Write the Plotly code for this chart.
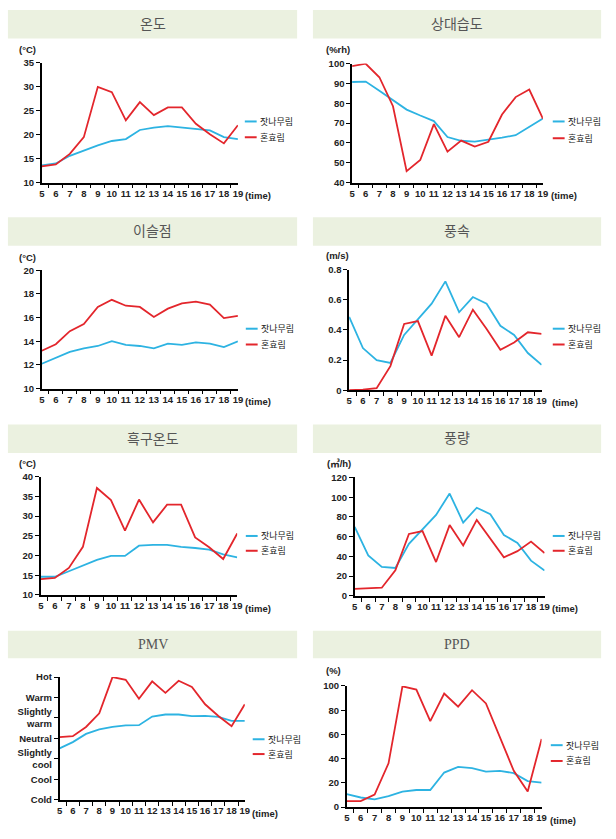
import plotly.graph_objects as go

W, H = 616, 839

# ---------------- data ----------------
hours = ["5", "6", "7", "8", "9", "10", "11", "12", "13", "14", "15", "16", "17", "18", "19"]
series_names = ["잣나무림", "혼효림"]

temp_pine = [13.6, 14.0, 15.6, 16.7, 17.8, 18.7, 19.1, 21.0, 21.5, 21.8, 21.5, 21.3, 20.9, 19.5, 19.1]
temp_mixed = [13.4, 13.8, 16.0, 19.5, 30.0, 28.9, 23.0, 26.8, 24.1, 25.7, 25.7, 22.3, 20.1, 18.2, 22.0]

rh_pine = [90.7, 90.9, 86.3, 81.6, 76.8, 73.8, 71.0, 63.0, 61.1, 60.7, 61.6, 62.7, 63.9, 68.0, 72.3]
rh_mixed = [98.7, 99.9, 93.1, 78.5, 45.8, 51.4, 69.5, 55.6, 61.2, 58.2, 60.6, 74.3, 83.1, 86.9, 72.2]

dew_pine = [12.1, 12.6, 13.1, 13.4, 13.6, 14.0, 13.7, 13.6, 13.4, 13.8, 13.7, 13.9, 13.8, 13.5, 14.0]
dew_mixed = [13.2, 13.75, 14.85, 15.45, 16.9, 17.5, 17.0, 16.9, 16.05, 16.75, 17.2, 17.35, 17.1, 15.95, 16.15]

wind_pine = [0.487, 0.28, 0.199, 0.181, 0.367, 0.472, 0.575, 0.723, 0.518, 0.619, 0.575, 0.428, 0.367, 0.247, 0.168]
wind_mixed = [0.0, 0.004, 0.013, 0.16, 0.44, 0.459, 0.23, 0.494, 0.352, 0.535, 0.407, 0.269, 0.317, 0.385, 0.374]

globe_pine = [14.6, 14.6, 16.0, 17.4, 18.9, 19.9, 19.9, 22.5, 22.7, 22.7, 22.2, 21.9, 21.5, 20.3, 19.5]
globe_mixed = [14.0, 14.3, 16.85, 22.2, 37.15, 34.06, 26.3, 34.2, 28.4, 32.9, 32.9, 24.6, 22.1, 19.1, 25.6]

vent_pine = [70.0, 41.0, 29.3, 28.3, 52.7, 67.7, 82.0, 103.7, 74.3, 89.3, 82.7, 61.7, 53.7, 35.7, 25.7]
vent_mixed = [7.0, 7.3, 8.3, 26.0, 62.7, 65.7, 34.3, 71.7, 51.0, 77.0, 58.3, 39.0, 45.3, 55.0, 43.3]

pmv_pine = [-0.49, -0.18, 0.22, 0.44, 0.56, 0.64, 0.65, 1.07, 1.17, 1.17, 1.09, 1.10, 1.05, 0.86, 0.86]
pmv_mixed = [0.06, 0.11, 0.56, 1.23, 3.0, 2.87, 1.94, 2.79, 2.23, 2.82, 2.52, 1.67, 1.10, 0.60, 1.67]
pmv_tickvals = [-3, -2, -1, 0, 1, 2, 3]
pmv_ticktext = ["Cold", "Cool", "Slightly<br>cool", "Neutral", "Slightly<br>warm", "Warm", "Hot"]

ppd_pine = [10.6, 7.9, 6.3, 9.0, 12.8, 14.1, 14.1, 28.5, 33.2, 32.1, 29.3, 29.9, 28.0, 21.5, 20.1]
ppd_mixed = [4.9, 4.9, 10.3, 36.1, 99.7, 97.0, 70.9, 93.8, 82.9, 96.5, 85.6, 57.1, 29.9, 12.8, 56.3]

titles = ["온도", "상대습도", "이슬점", "풍속", "흑구온도", "풍량", "PMV", "PPD"]
units = ["(°C)", "(%rh)", "(°C)", "(m/s)", "(°C)", "(㎥/h)", "", "(%)"]

# ---------------- styles / layout ----------------
colors = ["#2DB3E2", "#E3262C"]
tick_font = dict(family="Liberation Sans, Noto Sans CJK KR", size=9.5, color="#222222", weight="bold")
legend_font = dict(family="Noto Sans CJK KR", size=9, color="#222222")

panels = [
    dict(pine=temp_pine, mixed=temp_mixed, yr=[10, 35], dt=5,
         plot=(39.3, 238, 57.7, 179), box=(5, 298, 4, 33), unit_xy=(25, 44), time_xy=(258, 192), leg=(245, 117, 133)),
    dict(pine=rh_pine, mixed=rh_mixed, yr=[40, 100], dt=10,
         plot=(353.7, 547, 58.3, 179), box=(314, 606, 4, 33), unit_xy=(339, 44), time_xy=(568, 192), leg=(557, 117, 134)),
    dict(pine=dew_pine, mixed=dew_mixed, yr=[10, 20], dt=2,
         plot=(39.3, 238, 267.7, 387.7), box=(5, 298, 214, 243), unit_xy=(25, 255), time_xy=(258, 401), leg=(246, 327, 343)),
    dict(pine=wind_pine, mixed=wind_mixed, yr=[0, 0.8], dt=0.2,
         plot=(350.7, 545.7, 267.3, 389.3), box=(314, 606, 214, 243), unit_xy=(339, 253), time_xy=(569, 402), leg=(557, 327, 343)),
    dict(pine=globe_pine, mixed=globe_mixed, yr=[10, 40], dt=5,
         plot=(38.3, 237.3, 477, 596.7), box=(5, 298, 424, 453), unit_xy=(25, 464), time_xy=(258, 610), leg=(246, 537, 552)),
    dict(pine=vent_pine, mixed=vent_mixed, yr=[0, 120], dt=20,
         plot=(356.3, 548.7, 477.7, 597.7), box=(314, 606, 424, 453), unit_xy=(340, 464), time_xy=(569, 611), leg=(557, 537, 552)),
    dict(pine=pmv_pine, mixed=pmv_mixed, yr=[-3, 3], dt=None,
         plot=(57.3, 245, 680, 804.3), box=(5, 298, 633, 661), unit_xy=None, time_xy=(265, 818), leg=(253, 743, 758)),
    dict(pine=ppd_pine, mixed=ppd_mixed, yr=[0, 100], dt=20,
         plot=(348.3, 545.7, 689, 811.7), box=(314, 606, 633, 661), unit_xy=(335, 673), time_xy=(567, 825), leg=(555, 749, 765)),
]


def px(x):
    return x / W


def py(y):
    return 1 - y / H


fig = go.Figure()
shapes = []
annotations = []
layout = {}

for i, p in enumerate(panels):
    n = "" if i == 0 else str(i + 1)
    xa, ya = "x" + n, "y" + n
    x0, x1, y0, y1 = p["plot"]
    for k, (vals, name) in enumerate(zip([p["pine"], p["mixed"]], series_names)):
        fig.add_trace(go.Scatter(x=hours, y=vals, name=name, mode="lines",
                                 line=dict(color=colors[k], width=1.8),
                                 xaxis=xa, yaxis=ya, showlegend=False))
    layout["xaxis" + n] = dict(
        domain=[px(x0), px(x1)], anchor=ya, type="category",
        showline=True, linecolor="black", linewidth=1.5,
        ticks="outside", tickson="boundaries", ticklen=4, tickwidth=1.2, tickcolor="black",
        ticklabelstandoff=1,
        tickangle=0, showgrid=False, zeroline=False, tickfont=tick_font, fixedrange=True)
    yax = dict(
        domain=[py(y1), py(y0)], anchor=xa, range=p["yr"],
        showline=True, linecolor="black", linewidth=1.5,
        ticks="outside", ticklen=4, tickwidth=1.2, tickcolor="black",
        showgrid=False, zeroline=False, tickfont=tick_font, fixedrange=True)
    if p["dt"] is not None:
        yax.update(tick0=p["yr"][0], dtick=p["dt"])
    else:
        yax.update(tickvals=pmv_tickvals, ticktext=pmv_ticktext)
    layout["yaxis" + n] = yax

    # title box
    bx0, bx1, by0, by1 = p["box"]
    shapes.append(dict(type="rect", xref="paper", yref="paper",
                       x0=px(bx0), x1=px(bx1), y0=py(by1), y1=py(by0),
                       fillcolor="#EBF1E0", line=dict(width=0), layer="below"))
    title_font = dict(family="Liberation Serif, Noto Sans CJK KR", size=14, color="#555555")
    annotations.append(dict(xref="paper", yref="paper", x=px((bx0 + bx1) / 2), y=py((by0 + by1) / 2),
                            text=titles[i], showarrow=False, font=title_font,
                            xanchor="center", yanchor="middle"))
    # unit
    if p["unit_xy"] is not None:
        annotations.append(dict(xref="paper", yref="paper", x=px(p["unit_xy"][0]), y=py(p["unit_xy"][1]),
                                text=units[i], showarrow=False, font=tick_font,
                                xanchor="center", yanchor="middle"))
    # (time)
    annotations.append(dict(xref="paper", yref="paper", x=px(p["time_xy"][0]), y=py(p["time_xy"][1]),
                            text="(time)", showarrow=False, font=tick_font,
                            xanchor="center", yanchor="middle"))
    # legend
    lx, ly1, ly2 = p["leg"]
    for k, ly in enumerate([ly1, ly2]):
        shapes.append(dict(type="line", xref="paper", yref="paper",
                           x0=px(lx), x1=px(lx + 12), y0=py(ly), y1=py(ly),
                           line=dict(color=colors[k], width=2)))
        annotations.append(dict(xref="paper", yref="paper", x=px(lx + 13), y=py(ly),
                                text=series_names[k], showarrow=False, font=legend_font,
                                xanchor="left", yanchor="middle"))

fig.update_layout(
    width=W, height=H, autosize=False,
    margin=dict(l=0, r=0, t=0, b=0),
    paper_bgcolor="white", plot_bgcolor="white",
    shapes=shapes, annotations=annotations, showlegend=False,
    **layout)

fig.write_html("out.html",
               config={"displayModeBar": False},
               post_script="document.body.style.margin='0';document.body.style.padding='0';"
                           "document.body.style.overflow='hidden';")
